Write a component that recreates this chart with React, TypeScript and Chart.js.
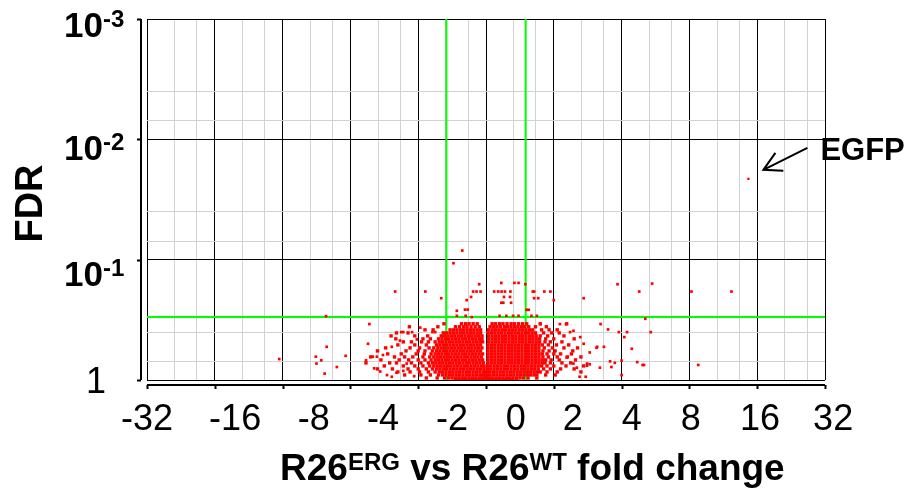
import React, { useEffect, useRef } from "react";
import { Chart, registerables } from "chart.js";

Chart.register(...registerables);

// ---------- axis definitions ----------
const xMajorTicks = [-5, -4, -3, -2, -1, 0, 1, 2, 3, 4, 5]; // log2 units
const xMinorOffsets = [0.41, 0.735];
const xTickLabels = ["-32", "-16", "-8", "-4", "-2", "0", "2", "4", "8", "16", "32"];
const xLabelAt = [-5, -3.7, -2.54, -1.52, -0.5, 0.44, 1.28, 2.15, 3.02, 4.04, 5.12];

const yDecades = [0.001, 0.01, 0.1, 1];
const yMinorMultipliers = [4, 7];
const yTickExponents = ["-3", "-2", "-1", null];
const yLabelNudge = [18, 21, 26, 13];

const foldCutoffs = [-0.585, 0.585];
const fdrCutoff = 0.3;

// ---------- data: dense rows (FDR level, log2 fold changes) ----------
const rowFdr = [0.341, 0.361, 0.383, 0.406, 0.43, 0.455, 0.482, 0.511, 0.541, 0.573, 0.607, 0.643, 0.681, 0.721, 0.764, 0.809, 0.857, 0.908, 0.962, 0.99];
const rowLog2FC = [
  [-0.36, -0.3, -0.25, -0.19, -0.13, 0.09, 0.14, 0.2, 0.25, 0.31, 0.37, 0.42, 0.48, 0.54, 0.6, 0.8, 1.19, -0.62],
  [-0.45, -0.39, -0.33, -0.28, -0.22, -0.16, -0.1, 0.06, 0.11, 0.16, 0.21, 0.27, 0.32, 0.37, 0.42, 0.47, 0.52, 0.57, 0.63, 0.73, 0.89, -0.71, -1.13],
  [-0.53, -0.48, -0.43, -0.38, -0.33, -0.28, -0.23, -0.18, -0.13, -0.08, 0.04, 0.09, 0.14, 0.19, 0.24, 0.29, 0.34, 0.39, 0.44, 0.49, 0.54, 0.59, 0.64, 0.69, 0.82, 0.93, 1.05, -0.78, -0.9],
  [-0.63, -0.58, -0.53, -0.48, -0.43, -0.38, -0.33, -0.28, -0.23, -0.18, -0.13, -0.08, 0.03, 0.08, 0.13, 0.18, 0.23, 0.28, 0.33, 0.38, 0.43, 0.48, 0.53, 0.58, 0.63, 0.68, 0.73, 0.85, 0.97, 1.08, -1.15, -1.32],
  [-0.66, -0.61, -0.56, -0.51, -0.46, -0.41, -0.36, -0.31, -0.26, -0.21, -0.16, -0.11, -0.06, 0.04, 0.09, 0.14, 0.19, 0.24, 0.29, 0.34, 0.39, 0.44, 0.49, 0.54, 0.59, 0.64, 0.69, 0.74, 0.8, 0.91, 1.15, -0.86, -1.4, -1.05],
  [-0.7, -0.65, -0.6, -0.55, -0.5, -0.45, -0.4, -0.35, -0.3, -0.25, -0.2, -0.15, -0.1, -0.06, 0.04, 0.09, 0.14, 0.19, 0.24, 0.29, 0.34, 0.39, 0.44, 0.49, 0.54, 0.59, 0.64, 0.69, 0.74, 0.79, 0.88, 1.0, 1.3, -0.82, -0.93, -1.33],
  [-0.75, -0.69, -0.64, -0.59, -0.54, -0.49, -0.44, -0.39, -0.34, -0.29, -0.24, -0.19, -0.14, -0.09, -0.05, 0.04, 0.09, 0.14, 0.19, 0.24, 0.29, 0.34, 0.39, 0.44, 0.49, 0.54, 0.59, 0.64, 0.69, 0.74, 0.79, 0.87, 0.95, 1.12, -0.85, -0.95, -1.22, -1.1],
  [-0.73, -0.68, -0.63, -0.58, -0.53, -0.48, -0.43, -0.38, -0.33, -0.28, -0.23, -0.18, -0.13, -0.08, 0.03, 0.08, 0.13, 0.18, 0.23, 0.28, 0.33, 0.38, 0.43, 0.48, 0.53, 0.58, 0.63, 0.68, 0.73, 0.78, 0.83, 0.92, 1.04, 1.22, -0.88, -1.05, -1.3],
  [-0.77, -0.71, -0.66, -0.61, -0.56, -0.51, -0.46, -0.41, -0.36, -0.31, -0.26, -0.21, -0.16, -0.11, -0.06, 0.03, 0.08, 0.13, 0.18, 0.23, 0.28, 0.33, 0.38, 0.43, 0.48, 0.53, 0.58, 0.63, 0.68, 0.73, 0.78, 0.86, 0.98, 1.15, 1.35, -0.84, -0.98, -1.12, -1.48],
  [-0.79, -0.73, -0.68, -0.63, -0.58, -0.53, -0.48, -0.43, -0.38, -0.33, -0.28, -0.23, -0.18, -0.13, -0.08, 0.03, 0.08, 0.13, 0.18, 0.23, 0.28, 0.33, 0.38, 0.43, 0.48, 0.53, 0.58, 0.63, 0.68, 0.73, 0.78, 0.84, 0.93, 1.02, 1.28, -0.9, -1.0, -1.18, -1.6],
  [-0.81, -0.75, -0.7, -0.65, -0.6, -0.55, -0.5, -0.45, -0.4, -0.35, -0.3, -0.25, -0.2, -0.15, -0.1, -0.05, 0.03, 0.08, 0.13, 0.18, 0.23, 0.28, 0.33, 0.38, 0.43, 0.48, 0.53, 0.58, 0.63, 0.68, 0.73, 0.78, 0.83, 0.9, 1.0, 1.1, 1.26, -0.91, -1.03, -1.25, -1.45],
  [-0.83, -0.77, -0.72, -0.67, -0.62, -0.57, -0.52, -0.47, -0.42, -0.37, -0.32, -0.27, -0.22, -0.17, -0.12, -0.07, 0.03, 0.08, 0.13, 0.18, 0.23, 0.28, 0.33, 0.38, 0.43, 0.48, 0.53, 0.58, 0.63, 0.68, 0.73, 0.78, 0.84, 0.92, 1.05, 1.2, 1.4, -0.93, -1.08, -1.2, -1.35, -1.7],
  [-0.81, -0.75, -0.7, -0.65, -0.6, -0.55, -0.5, -0.45, -0.4, -0.35, -0.3, -0.25, -0.2, -0.15, -0.1, -0.05, 0.03, 0.08, 0.13, 0.18, 0.23, 0.28, 0.33, 0.38, 0.43, 0.48, 0.53, 0.58, 0.63, 0.68, 0.73, 0.78, 0.83, 0.88, 0.96, 1.08, 1.32, -0.9, -1.0, -1.14, -1.28, -1.55],
  [-0.85, -0.79, -0.74, -0.69, -0.64, -0.59, -0.54, -0.49, -0.44, -0.39, -0.34, -0.29, -0.24, -0.19, -0.14, -0.09, -0.04, 0.03, 0.08, 0.13, 0.18, 0.23, 0.28, 0.33, 0.38, 0.43, 0.48, 0.53, 0.58, 0.63, 0.68, 0.73, 0.78, 0.83, 0.87, 0.95, 1.12, 1.25, -0.96, -1.1, -1.32, -1.42, -1.77],
  [-0.83, -0.77, -0.72, -0.67, -0.62, -0.57, -0.52, -0.47, -0.42, -0.37, -0.32, -0.27, -0.22, -0.17, -0.12, -0.07, -0.03, 0.02, 0.07, 0.12, 0.17, 0.22, 0.27, 0.32, 0.37, 0.42, 0.47, 0.52, 0.57, 0.62, 0.67, 0.72, 0.77, 0.82, 0.9, 1.0, 1.18, 1.44, -0.93, -1.05, -1.22, -1.5],
  [-0.79, -0.73, -0.68, -0.63, -0.58, -0.53, -0.48, -0.43, -0.38, -0.33, -0.28, -0.23, -0.18, -0.13, -0.08, -0.03, 0.02, 0.07, 0.12, 0.17, 0.22, 0.27, 0.32, 0.37, 0.42, 0.47, 0.52, 0.57, 0.62, 0.67, 0.72, 0.77, 0.85, 0.95, 1.1, 1.3, -0.88, -1.0, -1.15, -1.38, -1.6],
  [-0.75, -0.69, -0.64, -0.59, -0.54, -0.49, -0.44, -0.39, -0.34, -0.29, -0.24, -0.19, -0.14, -0.09, -0.04, -0.01, 0.02, 0.06, 0.11, 0.16, 0.21, 0.26, 0.31, 0.36, 0.41, 0.46, 0.51, 0.56, 0.61, 0.66, 0.71, 0.76, 0.8, 0.9, 1.05, 1.4, -0.85, -0.98, -1.12, -1.3],
  [-0.7, -0.64, -0.59, -0.54, -0.49, -0.44, -0.39, -0.34, -0.29, -0.24, -0.19, -0.14, -0.09, -0.05, -0.01, 0.02, 0.06, 0.11, 0.16, 0.21, 0.26, 0.31, 0.36, 0.41, 0.46, 0.51, 0.56, 0.61, 0.66, 0.71, 0.75, 0.88, 1.02, -0.82, -0.96, -1.2],
  [-0.61, -0.55, -0.5, -0.45, -0.4, -0.35, -0.3, -0.25, -0.2, -0.15, -0.1, -0.06, -0.02, 0.01, 0.05, 0.1, 0.15, 0.2, 0.25, 0.3, 0.35, 0.4, 0.45, 0.5, 0.55, 0.62, 0.75, -0.72, -0.88],
  [-0.45, -0.4, -0.35, -0.3, -0.25, -0.2, -0.15, -0.1, -0.05, 0.0, 0.04, 0.09, 0.14, 0.19, 0.24, 0.29, 0.34, 0.39, 0.45],
];

// ---------- data: scattered genes ----------
const scatterLog2FC = [
  -0.35, -0.48, -1.34, -0.895, -0.66, -2.36, -1.72, -2.35, -2.51, -2.43, -2.5, -2.2, -2.38, -2.07, -1.74, -1.77, -1.67, -1.61, -1.52, -1.39,
  -1.27, -1.25, -1.22, -1.09, -1.02, -0.97, -0.79, -0.75, -0.43, -0.31, -0.27, -0.285, -0.22, -0.19, -0.14, -0.08, -0.1, -0.43, -0.3, -0.21,
  0.226, 0.42, 0.48, 0.58, 0.12, 0.18, 0.23, 0.28, 0.36, 0.265, 0.354, 0.226, 0.255, 0.37, 0.69, 0.71, 0.71, 0.77, 0.86, 0.95,
  1.0, 1.44, 0.6, 0.63, 0.67, 0.75, 0.2, 0.3, 0.4, 0.48, 0.8, 1.18, 1.29,
  1.94, 2.45, 2.26, 3.03, 3.62, 2.35, 1.69, 1.8, 1.96, 2.08, 2.43, 2.04, 2.15, 2.0, 2.23, 2.31, 2.33, 2.0, 3.13, 1.74,
  1.64, 1.85, 1.9, 1.83, 1.68, 1.47, 1.38, 1.49, 1.49,
  1.09, 1.24, 1.39, 1.44, 1.53, 1.63, 1.19, 1.34, 1.53, 1.29,
  -3.05, -1.65, -1.56, -1.46, -1.39, -1.32, -1.22, -1.17, -1.06,
];
const scatterFdr = [
  0.084, 0.107, 0.184, 0.184, 0.209, 0.295, 0.343, 0.53, 0.64, 0.686, 0.73, 0.78, 0.885, 0.63, 0.5, 0.686, 0.64, 0.64, 0.62, 0.53,
  0.47, 0.4, 0.4, 0.4, 0.46, 0.367, 0.4, 0.4, 0.266, 0.26, 0.26, 0.217, 0.204, 0.184, 0.184, 0.184, 0.16, 0.293, 0.293, 0.3,
  0.156, 0.156, 0.156, 0.16, 0.184, 0.184, 0.184, 0.184, 0.184, 0.204, 0.204, 0.228, 0.228, 0.228, 0.184, 0.184, 0.209, 0.209, 0.184, 0.184,
  0.217, 0.209, 0.261, 0.261, 0.293, 0.293, 0.293, 0.293, 0.293, 0.293, 0.343, 0.343, 0.39,
  0.16, 0.158, 0.184, 0.184, 0.184, 0.31, 0.343, 0.38, 0.4, 0.4, 0.4, 0.44, 0.55, 0.69, 0.71, 0.75, 0.75, 0.91, 0.75, 0.53,
  0.53, 0.78, 0.72, 0.7, 0.79, 0.94, 0.94, 0.73, 0.76,
  0.343, 0.4, 0.44, 0.5, 0.59, 0.54, 0.65, 0.79, 0.74, 0.73,
  0.67, 0.8, 0.85, 0.91, 0.94, 0.87, 0.84, 0.73, 0.93,
];

const egfpLog2FC = 3.87;
const egfpFdr = 0.0213;

const FONT = '"Liberation Sans", Arial, sans-serif';

const isInt = (v: number) => Math.abs(v - Math.round(v)) < 1e-6;
const isPow10 = (v: number) => isInt(Math.log10(v));

const overlayPlugin = {
  id: "overlay",
  beforeDatasetsDraw(chart: any) {
    const { ctx, chartArea: a, scales } = chart;
    const xs = scales.x, ys = scales.y;
    ctx.save();
    ctx.strokeStyle = "#00ff00";
    ctx.lineWidth = 2;
    ctx.beginPath();
    foldCutoffs.forEach((c) => {
      const x = xs.getPixelForValue(c);
      ctx.moveTo(x, a.top);
      ctx.lineTo(x, a.bottom);
    });
    const yc = ys.getPixelForValue(fdrCutoff);
    ctx.moveTo(a.left, yc);
    ctx.lineTo(a.right, yc);
    ctx.stroke();
    ctx.restore();
  },
  afterDraw(chart: any) {
    const { ctx, chartArea: a, scales } = chart;
    const xs = scales.x, ys = scales.y;
    ctx.save();
    ctx.fillStyle = "#000";
    ctx.strokeStyle = "#000";

    // offset left axis
    const axX = a.left - 6;
    ctx.lineWidth = 2;
    ctx.beginPath();
    ctx.moveTo(axX, a.top);
    ctx.lineTo(axX, a.bottom);
    yDecades.forEach((v) => {
      const y = Math.round(ys.getPixelForValue(v)) + 0.5;
      ctx.moveTo(axX, y);
      ctx.lineTo(axX - 4, y);
    });
    ctx.stroke();

    // offset bottom axis
    const axY = a.bottom + 5;
    ctx.beginPath();
    ctx.moveTo(a.left, axY);
    ctx.lineTo(a.right, axY);
    xMajorTicks.forEach((v) => {
      const x = Math.round(xs.getPixelForValue(v)) + 0.5;
      ctx.moveTo(x, axY);
      ctx.lineTo(x, axY + 4);
    });
    ctx.stroke();

    // x tick labels
    ctx.font = `36px ${FONT}`;
    ctx.textAlign = "center";
    ctx.textBaseline = "alphabetic";
    xTickLabels.forEach((t, i) => {
      ctx.fillText(t, xs.getPixelForValue(xLabelAt[i]), a.bottom + 50);
    });

    // y tick labels
    yDecades.forEach((v, i) => {
      const base = ys.getPixelForValue(v) + yLabelNudge[i];
      const exp = yTickExponents[i];
      if (exp) {
        ctx.font = `bold 35px ${FONT}`;
        ctx.textAlign = "right";
        ctx.fillText("10", a.left - 44, base);
        ctx.font = `bold 24px ${FONT}`;
        ctx.textAlign = "left";
        ctx.fillText(exp, a.left - 44, base - 10);
      } else {
        ctx.font = `36px ${FONT}`;
        ctx.textAlign = "right";
        ctx.fillText("1", a.left - 41, base);
      }
    });

    // y title
    ctx.save();
    ctx.translate(42, (a.top + a.bottom) / 2 + 4);
    ctx.rotate(-Math.PI / 2);
    ctx.font = `bold 38px ${FONT}`;
    ctx.textAlign = "center";
    ctx.fillText("FDR", 0, 0);
    ctx.restore();

    // x title with superscripts
    const runs = [
      { t: "R26", sup: false },
      { t: "ERG", sup: true },
      { t: " vs R26", sup: false },
      { t: "WT", sup: true },
      { t: " fold change", sup: false },
    ];
    let tx = 280;
    const tb = a.bottom + 100;
    ctx.textAlign = "left";
    runs.forEach((r) => {
      ctx.font = r.sup ? `bold 24px ${FONT}` : `bold 37px ${FONT}`;
      ctx.fillText(r.t, tx, r.sup ? tb - 10 : tb);
      tx += ctx.measureText(r.t).width;
    });

    // EGFP annotation
    const px = xs.getPixelForValue(egfpLog2FC);
    const py = ys.getPixelForValue(egfpFdr);
    const tipX = px + 15, tipY = py - 9;
    ctx.lineWidth = 2;
    ctx.beginPath();
    ctx.moveTo(px + 59, py - 31);
    ctx.lineTo(tipX, tipY);
    ctx.moveTo(tipX + 12, tipY - 17);
    ctx.lineTo(tipX, tipY);
    ctx.lineTo(tipX + 20, tipY + 1);
    ctx.stroke();
    ctx.font = `bold 31px ${FONT}`;
    ctx.textAlign = "left";
    ctx.fillText("EGFP", px + 72, py - 19);

    ctx.restore();
  },
};

export default function App() {
  const ref = useRef<HTMLCanvasElement | null>(null);

  useEffect(() => {
    document.body.style.margin = "0";
    const densePoints: { x: number; y: number }[] = [];
    rowLog2FC.forEach((row, i) => row.forEach((x) => densePoints.push({ x, y: rowFdr[i] })));
    const scatterPoints = scatterLog2FC.map((x, i) => ({ x, y: scatterFdr[i] }));

    const xGrid: number[] = [...xMajorTicks];
    for (let k = xMajorTicks[0]; k < xMajorTicks[xMajorTicks.length - 1]; k++) {
      xMinorOffsets.forEach((o) => xGrid.push(k + o));
    }
    const yGrid: number[] = [...yDecades];
    yDecades.slice(0, -1).forEach((d) => yMinorMultipliers.forEach((m) => yGrid.push(d * m)));

    const pointStyle = { pointStyle: "rect", backgroundColor: "#ff0000", borderWidth: 0 };
    const chart = new Chart(ref.current as HTMLCanvasElement, {
      type: "scatter",
      data: {
        datasets: [
          { data: densePoints, pointRadius: 2.4, ...pointStyle },
          { data: scatterPoints, pointRadius: 1.9, ...pointStyle },
          { data: [{ x: egfpLog2FC, y: egfpFdr }], pointRadius: 1.6, ...pointStyle },
        ],
      },
      options: {
        responsive: false,
        animation: false,
        devicePixelRatio: 1,
        events: [],
        layout: { padding: { left: 147, top: 19, right: 84, bottom: 112 } },
        plugins: { legend: { display: false }, tooltip: { enabled: false } },
        scales: {
          x: {
            type: "linear",
            min: -5,
            max: 5,
            afterBuildTicks: (s: any) => {
              s.ticks = [...xGrid].sort((p, q) => p - q).map((v) => ({ value: v }));
            },
            ticks: { display: false },
            border: { display: false },
            grid: {
              drawTicks: false,
              lineWidth: 1,
              color: (c: any) => (c.tick && isInt(c.tick.value) ? "#000000" : "#d2d2d2"),
            },
          },
          y: {
            type: "logarithmic",
            reverse: true,
            min: 0.001,
            max: 1,
            afterBuildTicks: (s: any) => {
              s.ticks = [...yGrid].sort((p, q) => p - q).map((v) => ({ value: v }));
            },
            ticks: { display: false },
            border: { display: false },
            grid: {
              drawTicks: false,
              lineWidth: 1,
              color: (c: any) => (c.tick && isPow10(c.tick.value) ? "#000000" : "#d2d2d2"),
            },
          },
        },
      },
      plugins: [overlayPlugin],
    } as any);
    return () => chart.destroy();
  }, []);

  return (
    <div style={{ width: 909, height: 492 }}>
      <canvas ref={ref} width={909} height={492} style={{ display: "block" }} />
    </div>
  );
}
